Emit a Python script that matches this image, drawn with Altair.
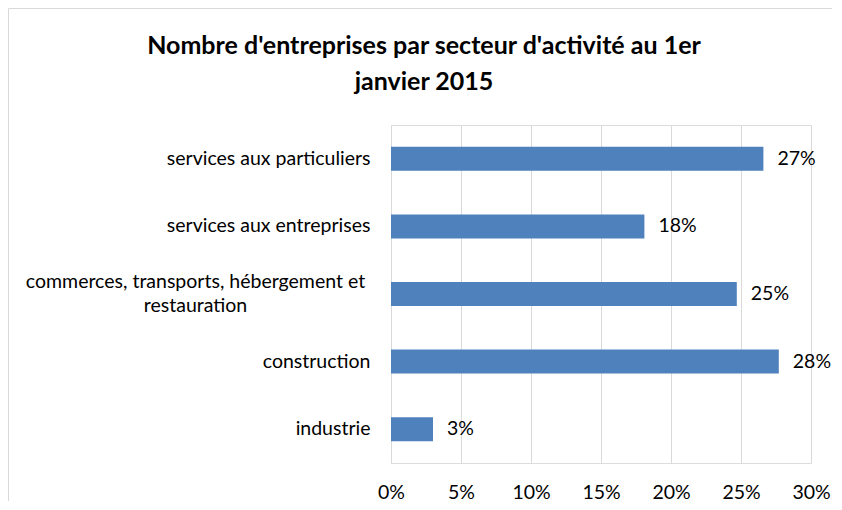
import altair as alt
import pandas as pd

categories = [
    "services aux particuliers",
    "services aux entreprises ",
    "commerces, transports, hébergement et restauration",
    "construction",
    "industrie",
]
shares = [0.266, 0.181, 0.247, 0.277, 0.030]
x_ticks = [0, 0.05, 0.10, 0.15, 0.20, 0.25, 0.30]
long_label = categories[2]
long_label_lines = ["commerces, transports, hébergement et", "restauration"]
title_lines = ["Nombre d'entreprises par secteur d'activité au 1er", "janvier 2015"]

df = pd.DataFrame({"secteur": categories, "part": shares})

FONT = "Lato"
FS = 19.5
BLUE = "#4F81BD"

y_enc = alt.Y(
    "secteur:N",
    sort=categories,
    title=None,
    scale=alt.Scale(paddingInner=0.645, paddingOuter=0.3225),
    axis=alt.Axis(
        domain=False,
        ticks=False,
        tickSize=0,
        grid=False,
        labelPadding=21,
        labelFont=FONT,
        labelFontSize=FS,
        labelColor="#000000",
        labelLimit=400,
        labelExpr=f"datum.value == '{long_label}' ? '' : datum.label",
    ),
)
x_enc = alt.X(
    "part:Q",
    title=None,
    scale=alt.Scale(domain=[0, 0.30], nice=False),
    axis=alt.Axis(
        values=x_ticks,
        format=".0%",
        domain=False,
        ticks=False,
        tickSize=0,
        grid=True,
        gridColor="#D9D9D9",
        gridWidth=1,
        labelFlush=False,
        labelPadding=29,
        labelBaseline="middle",
        labelFont=FONT,
        labelFontSize=FS,
        labelColor="#000000",
    ),
)

base = alt.Chart(df)
bars = base.mark_bar(color=BLUE).encode(x=x_enc, y=y_enc)
labels = base.mark_text(
    align="left", baseline="middle", dx=14, font=FONT, fontSize=FS, color="#000000"
).encode(x="part:Q", y=alt.Y("secteur:N", sort=categories), text=alt.Text("part:Q", format=".0%"))
long_lbl = base.transform_filter(f"datum.secteur == '{long_label}'").mark_text(
    align="center", baseline="middle", dy=-12, font=FONT, fontSize=FS, color="#000000", lineHeight=24
).encode(
    x=alt.value(-195.5),
    y=alt.Y("secteur:N", sort=categories),
    text=alt.value(long_label_lines),
)
frame = alt.Chart(pd.DataFrame({"a": [0]})).mark_rect(
    fill=None, stroke="#D9D9D9", strokeWidth=1, clip=False
).encode(
    x=alt.value(-382.5), x2=alt.value(1000), y=alt.value(-116.5), y2=alt.value(1000)
)

chart = alt.layer(frame, bars, labels, long_lbl).properties(
    width=420,
    height=338,
    padding={"left": 383, "top": 117, "right": 21, "bottom": 38},
    autosize=alt.AutoSizeParams(type="none"),
    title=alt.Title(
        text=title_lines,
        anchor="start",
        align="center",
        dx=33,
        dy=87,
        frame="group",
        font=FONT,
        fontSize=25,
        fontWeight="bold",
        color="#000000",
        lineHeight=36,
        offset=0,
    ),
).configure_view(stroke=None).configure(background="white")

chart.save("out.html", embed_options={"renderer": "svg", "actions": False})
